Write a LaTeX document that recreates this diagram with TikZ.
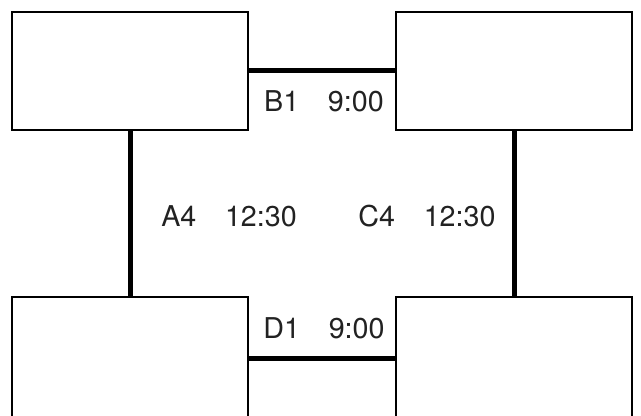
\documentclass[tikz,border=0pt]{standalone}
\usepackage{fontspec}
\setmainfont{TeX Gyre Heros}
\usetikzlibrary{positioning}
\definecolor{RoomLine}{HTML}{000000}
\definecolor{TimeText}{HTML}{222222}

\begin{document}
\begin{tikzpicture}[x=0.75pt,y=-0.75pt]
    \tikzset{room/.style={draw=RoomLine,line width=1.5pt,fill=white,
      minimum width=177pt,minimum height=88.5pt,inner sep=0pt},
      link/.style={line width=3.75pt,draw=RoomLine},
      slot/.style={font=\fontsize{21.5}{24}\selectfont,text=TimeText,inner sep=0pt}}
    \clip (0,0) rectangle (641,416);
    \fill[white] (0,0) rectangle (641,416);
    \node[room] (tl) at (130,71) {};
    \node[room] (tr) at (514,71) {};
    \node[room,minimum height=91.5pt] (bl) at (130,358) {};
    \node[room,minimum height=91.5pt] (br) at (514,358) {};
    \draw[link] (tl.east) -- (tr.west);
    \draw[link] (tl.south) -- (bl.north);
    \draw[link] (tr.south) -- (br.north);
    \draw[link] (bl.east) -- (br.west);
    \node[slot] (b1) at (324,101) {B1\quad 9:00};
    \node[slot] (a4) at (229,216) {A4\quad 12:30};
    \node[slot] (c4) at (427,216) {C4\quad 12:30};
    \node[slot] (d1) at (324,328) {D1\quad 9:00};
  \end{tikzpicture}
\end{document}
